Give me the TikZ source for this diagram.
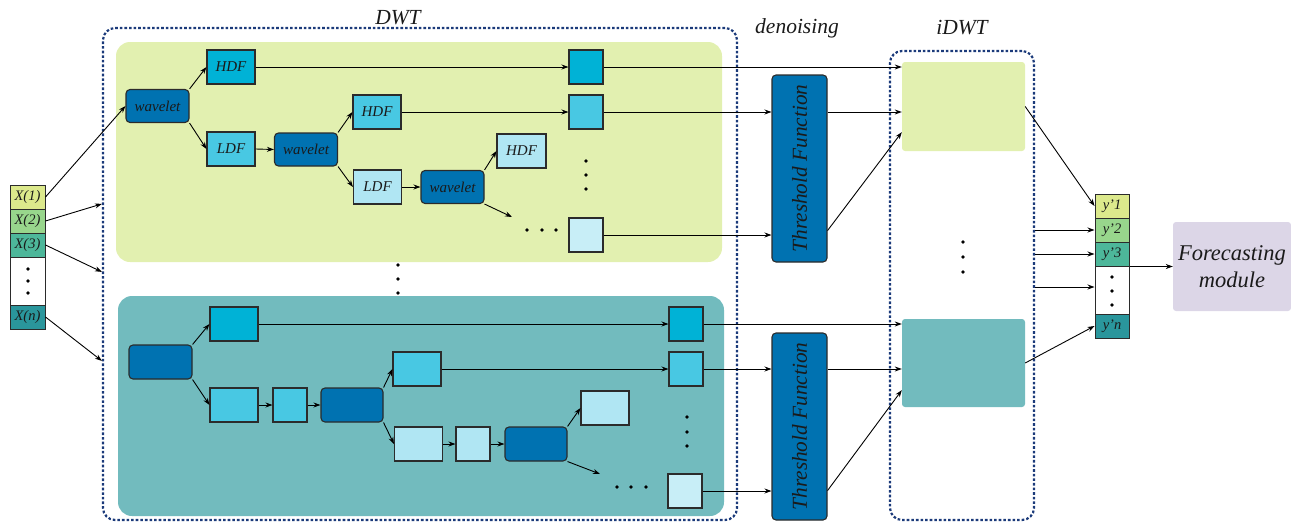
\documentclass[tikz,border=0pt]{standalone}
\usepackage{fontspec}
\setmainfont{Liberation Serif}
\usetikzlibrary{arrows.meta,calc}
\definecolor{pgreen}{HTML}{E2F0B0}
\definecolor{pteal}{HTML}{72BBBE}
\definecolor{wavc}{HTML}{0072B1}
\definecolor{lvA}{HTML}{00B2D6}
\definecolor{lvB}{HTML}{48C8E3}
\definecolor{lvC}{HTML}{B0E6F3}
\definecolor{lvD}{HTML}{C8EEF7}
\definecolor{navy}{HTML}{1B3A7A}
\definecolor{bord}{HTML}{2B2B2B}
\definecolor{txt}{HTML}{1A1A1A}
\definecolor{fmc}{HTML}{DCD6E7}
\definecolor{cA}{HTML}{DCE98C}
\definecolor{cB}{HTML}{98D68C}
\definecolor{cC}{HTML}{4DB79A}
\definecolor{cD}{HTML}{2A969C}
\begin{document}
\begin{tikzpicture}[x=1pt,y=-1pt,
  bx/.style={draw=bord, line width=1.1pt, inner sep=0pt, text=txt, font=\itshape\fontsize{15}{17}\selectfont},
  sz/.style 2 args={minimum width=#1pt, minimum height=#2pt},
  wv/.style={bx, rounded corners=4pt, fill=wavc, sz={63}{33}},
  cell/.style={bx, line width=1pt, sz={35}{24}, font=\itshape\fontsize{14.5}{17}\selectfont},
  th/.style={bx, rounded corners=4pt, fill=wavc, sz={55}{187}},
  lab/.style={text=txt, font=\itshape\fontsize{21.5}{24}\selectfont},
  panel/.style={rounded corners=14pt, inner sep=0pt},
  dbox/.style={draw=navy, line width=2.2pt, dash pattern=on 2.6pt off 2pt, rounded corners=12pt, inner sep=0pt},
  arr/.style={-{Stealth[length=7pt,width=5pt]}, line width=0.9pt},
  ln/.style={line width=0.9pt}
]
\useasboundingbox (0,0) rectangle (1291,522);

% panels
\node[panel, fill=pgreen, sz={606}{220}] (p1) at (419,152) {};
\node[panel, fill=pteal, sz={606}{220}] (p2) at (421,406) {};
\node[panel, rounded corners=3pt, fill=pgreen, sz={123}{89}] (g1) at (963.5,106.5) {};
\node[panel, rounded corners=3pt, fill=pteal, sz={123}{88}] (g2) at (963.5,363) {};

% dashed boxes
\node[dbox, sz={634}{492}] (dwt) at (420,274) {};
\node[dbox, sz={144}{469}] (idwt) at (962,285.5) {};

% labels
\node[lab] (ldwt) at (398,18) {DWT};
\node[lab] (lden) at (797,28) {denoising};
\node[lab] (lidwt) at (962,28) {iDWT};

% input column
\node[cell, fill=cA] (x1) at (27.5,197) {X(1)};
\node[cell, fill=cB] (x2) at (27.5,221) {X(2)};
\node[cell, fill=cC] (x3) at (27.5,245) {X(3)};
\node[cell, fill=white, sz={35}{48}] (xd) at (27.5,281) {};
\node[cell, fill=cD] (xn) at (27.5,317) {X(n)};

% output column
\node[cell, sz={34}{24}, fill=cA] (y1) at (1112,206) {y'1};
\node[cell, sz={34}{24}, fill=cB] (y2) at (1112,230) {y'2};
\node[cell, sz={34}{24}, fill=cC] (y3) at (1112,254) {y'3};
\node[cell, fill=white, sz={34}{48}] (yd) at (1112,290) {};
\node[cell, sz={34}{24}, fill=cD] (yn) at (1112,326) {y'n};

\node[rounded corners=3pt, fill=fmc, inner sep=0pt, sz={118}{89}, align=center, text=txt,
  font=\itshape\fontsize{22.5}{27}\selectfont] (fm) at (1232,266.5) {Forecasting\\module};

% top panel nodes
\node[wv] (w1) at (157.5,106) {wavelet};
\node[bx, fill=lvA, sz={48}{34}] (h1) at (231,67) {HDF};
\node[bx, fill=lvB, sz={48}{34}] (l1) at (231,149) {LDF};
\node[wv] (w2) at (306,149.5) {wavelet};
\node[bx, fill=lvB, sz={48}{34}] (h2) at (377,112) {HDF};
\node[bx, fill=lvC, sz={48}{34}] (l2) at (377.5,187) {LDF};
\node[wv] (w3) at (452.5,187) {wavelet};
\node[bx, fill=lvC, sz={49}{34}] (h3) at (521.5,151) {HDF};
\node[bx, fill=lvA, sz={34}{34}] (s1) at (586,67) {};
\node[bx, fill=lvB, sz={34}{34}] (s2) at (586,112) {};
\node[bx, fill=lvD, sz={34}{34}] (s3) at (586,235) {};
\coordinate (e1) at (512,217);

% bottom panel nodes
\node[wv, sz={63}{34}] (bw1) at (160.5,362) {};
\node[bx, fill=lvA, sz={48}{34}] (bh1) at (234,324) {};
\node[bx, fill=lvB, sz={48}{34}] (bl1) at (234,405) {};
\node[bx, fill=lvB, sz={34}{34}] (bl1b) at (290,405) {};
\node[wv, sz={62}{34}] (bw2) at (352,405) {};
\node[bx, fill=lvB, sz={48}{34}] (bh2) at (417,369) {};
\node[bx, fill=lvC, sz={48}{34}] (bl2) at (418.5,444) {};
\node[bx, fill=lvC, sz={34}{34}] (bl2b) at (473,444) {};
\node[wv, sz={62}{34}] (bw3) at (536,444) {};
\node[bx, fill=lvC, sz={48}{34}] (bh3) at (605,408) {};
\node[bx, fill=lvA, sz={34}{34}] (bs1) at (686,324) {};
\node[bx, fill=lvB, sz={34}{34}] (bs2) at (686,369) {};
\node[bx, fill=lvD, sz={34}{34}] (bs3) at (685,491) {};
\coordinate (e2) at (600,474);

% threshold functions
\node[th] (t1) at (799.5,168.5) {};
\node[th] (t2) at (799.5,426.5) {};
\node[rotate=90, text=txt, font=\itshape\fontsize{21.3}{24}\selectfont] (t1l) at (t1) {Threshold Function};
\node[rotate=90, text=txt, font=\itshape\fontsize{21.3}{24}\selectfont] (t2l) at (t2) {Threshold Function};

% dots
\foreach \p in {(28,269),(28,281),(28,293),(1112,277),(1112,291),(1112,305),
  (398,265),(398,279),(398,293),(963,242),(963,257),(963,272),
  (586,161),(586,175),(586,189),(527,230),(542,230),(556,230),
  (687,417),(687,432),(687,446),(617,487),(631,487),(646,487)}
  \fill[black] \p circle (1.8pt);

% input arrows
\draw[arr] (x1.east) -- (w1.west);
\draw[arr] (x2.east) -- ($(dwt.north west)+(0,177)$);
\draw[arr] (x3.east) -- ($(dwt.north west)+(0,245)$);
\draw[arr] (xn.east) -- ($(dwt.north west)+(0,334)$);

% top panel arrows
\draw[arr] (w1.north east) -- (h1.west);
\draw[arr] (w1.south east) -- (l1.west);
\draw[arr] (l1.east) -- (w2.west);
\draw[arr] (w2.north east) -- (h2.west);
\draw[arr] (w2.south east) -- (l2.west);
\draw[arr] (l2.east) -- (w3.west);
\draw[arr] (w3.north east) -- (h3.west);
\draw[arr] (w3.south east) -- (e1);
\draw[arr] (h1.east) -- (s1.west);
\draw[arr] (h2.east) -- (s2.west);

% bottom panel arrows
\draw[arr] (bw1.north east) -- (bh1.west);
\draw[arr] (bw1.south east) -- (bl1.west);
\draw[arr] (bl1.east) -- (bl1b.west);
\draw[arr] (bl1b.east) -- (bw2.west);
\draw[arr] (bw2.north east) -- (bh2.west);
\draw[arr] (bw2.south east) -- (bl2.west);
\draw[arr] (bl2.east) -- (bl2b.west);
\draw[arr] (bl2b.east) -- (bw3.west);
\draw[arr] (bw3.north east) -- (bh3.west);
\draw[arr] (bw3.south east) -- (e2);
\draw[arr] (bh1.east) -- (bs1.west);
\draw[arr] (bh2.east) -- (bs2.west);

% to denoising / iDWT
\draw[arr] (s1.east) -- (s1.east -| g1.west);
\draw[arr] (s2.east) -- (s2.east -| t1.west);
\draw[arr] (s2.east -| t1.east) -- (s2.east -| g1.west);
\draw[arr] (s3.east) -- (s3.east -| t1.west);
\draw[arr] ($(t1.south east)+(0,-32)$) -- ($(g1.south west)+(0,-19)$);

\draw[arr] (bs1.east) -- (bs1.east -| g2.west);
\draw[arr] (bs2.east) -- (bs2.east -| t2.west);
\draw[arr] (bs2.east -| t2.east) -- (bs2.east -| g2.west);
\draw[arr] (bs3.east) -- (bs3.east -| t2.west);
\draw[arr] ($(t2.south east)+(0,-30)$) -- ($(g2.south west)+(0,-17)$);

% to output column
\draw[arr] (g1.east) -- (y1.west);
\draw[arr] (y2.west -| idwt.east) -- (y2.west);
\draw[arr] (y3.west -| idwt.east) -- (y3.west);
\draw[arr] ($(yd.west -| idwt.east)+(0,-3)$) -- ($(yd.west)+(0,-3)$);
\draw[arr] (g2.east) -- (yn.west);
\draw[arr] (y3.south east) -- (y3.south east -| fm.west);
\end{tikzpicture}
\end{document}
